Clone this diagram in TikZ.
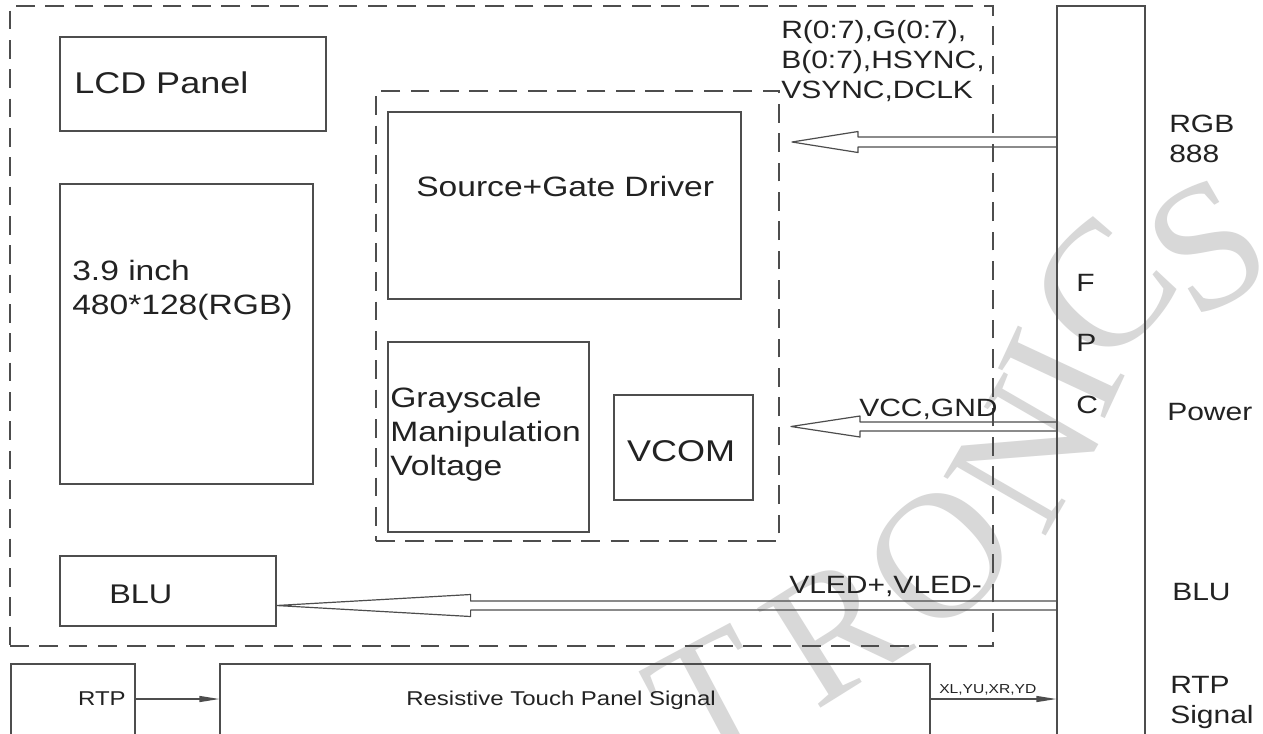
\documentclass[tikz,border=0pt]{standalone}
\usepackage{fontspec}
\setmainfont{Liberation Sans}[FakeStretch=1.2]
\newfontfamily\wmfont{Liberation Serif}
\usetikzlibrary{fit,calc,arrows.meta}
\definecolor{ln}{HTML}{4D4D4D}
\definecolor{tx}{HTML}{222222}
\definecolor{wm}{HTML}{D8D8D8}
\newcommand{\fs}[1]{\fontsize{#1}{#1}\selectfont}
\newcommand{\hollowarrow}[5]{%
  \draw[line] ($(#1)+(0,-#4)$) -- ($(#2)+(#3,-#4)$) -- ($(#2)+(#3,-#5)$) -- (#2)
    -- ($(#2)+(#3,#5)$) -- ($(#2)+(#3,#4)$) -- ($(#1)+(0,#4)$);}
\begin{document}
\begin{tikzpicture}[x=0.75pt,y=-0.75pt,
  box/.style={draw=ln,line width=0.9pt,inner sep=0pt},
  dbox/.style={box,dash pattern=on 14pt off 8pt},
  txt/.style={inner sep=0pt,anchor=base west,text=tx},
  wmark/.style={inner sep=0pt,text=wm,font=\wmfont\fs{135pt}},
  line/.style={draw=ln,line width=0.9pt,line join=round},
  small arrow/.style={draw=ln,line width=0.9pt,-{Triangle[length=15pt,width=4.5pt]}}
]
\useasboundingbox (0,0) rectangle (1263,733);
\clip (0,0) rectangle (1263,733);
\fill[white] (0,0) rectangle (1263,733);

% watermark
\node[wmark,rotate=28] (wmT) at (712,700) {T};
\node[wmark,rotate=32] (wmR) at (835,630) {R};
\node[wmark,rotate=45] (wmO) at (940,556) {O};
\node[wmark,rotate=60] (wmN) at (1025,455) {N};
\node[wmark,rotate=65] (wmI) at (1062,372) {I};
\node[wmark,rotate=48] (wmC) at (1103,290) {C};
\node[wmark,rotate=30] (wmS) at (1207,247) {S};

% boxes
\node[dbox,fit={(10,6)(993,646)}] (module) {};
\node[dbox,fit={(376,91)(779,541)}] (ic) {};
\node[box,fit={(60,37)(326,131)}] (lcd) {};
\node[box,fit={(60,184)(313,484)}] (panel) {};
\node[box,fit={(388,112)(741,299)}] (drv) {};
\node[box,fit={(388,342)(589,532)}] (gray) {};
\node[box,fit={(614,395)(753,500)}] (vcom) {};
\node[box,fit={(60,556)(276,626)}] (blu) {};
\node[box,fit={(1057,6)(1145,760)}] (fpc) {};
\node[box,fit={(11,664)(135,760)}] (rtp) {};
\node[box,fit={(220,664)(930,760)}] (rtps) {};

% texts
\node[txt,font=\fs{22.5pt}] (tlcd) at (74,93) {LCD Panel};
\node[txt,font=\fs{21pt}] (t39a) at (72,280) {3.9 inch};
\node[txt,font=\fs{21pt}] (t39b) at (72,314) {480*128(RGB)};
\node[txt,font=\fs{21pt}] (tdrv) at (416,196) {Source+Gate Driver};
\node[txt,font=\fs{21pt}] (tg1) at (390,407) {Grayscale};
\node[txt,font=\fs{21pt}] (tg2) at (390,441) {Manipulation};
\node[txt,font=\fs{21pt}] (tg3) at (390,475) {Voltage};
\node[txt,anchor=base,font=\fs{22.5pt}] (tvcom) at (681,461) {VCOM};
\node[txt,font=\fs{20.25pt}] (tblu) at (109,603) {BLU};
\node[txt,font=\fs{18.75pt}] (trgb1) at (781,38) {R(0:7),G(0:7),};
\node[txt,font=\fs{18.75pt}] (trgb2) at (781,68) {B(0:7),HSYNC,};
\node[txt,font=\fs{18.75pt}] (trgb3) at (781,98) {VSYNC,DCLK};
\node[txt,font=\fs{18.75pt}] (tvcc) at (859,416) {VCC,GND};
\node[txt,font=\fs{18.75pt}] (tvled) at (789,593) {VLED+,VLED-};
\node[txt,font=\fs{18.75pt}] (tf) at (1076,291) {F};
\node[txt,font=\fs{18.75pt}] (tp) at (1076,351) {P};
\node[txt,font=\fs{18.75pt}] (tc) at (1076,413) {C};
\node[txt,font=\fs{18.75pt}] (tr1) at (1169,132) {RGB};
\node[txt,font=\fs{18.75pt}] (tr2) at (1169,162) {888};
\node[txt,font=\fs{18.75pt}] (tpow) at (1167,420) {Power};
\node[txt,font=\fs{18.75pt}] (tblu2) at (1172,600) {BLU};
\node[txt,font=\fs{18.75pt}] (trtp1) at (1170,693) {RTP};
\node[txt,font=\fs{18.75pt}] (trtp2) at (1170,723) {Signal};
\node[txt,anchor=base east,font=\fs{15pt}] (trtp) at (126,705) {RTP};
\node[txt,font=\fs{15pt}] (trts) at (406,705) {Resistive Touch Panel Signal};
\node[txt,font=\fs{9.75pt}] (txl) at (939,693) {XL,YU,XR,YD};

% hollow arrows
\coordinate (rgbtip) at (792,142);
\coordinate (rgbsrc) at (fpc.west |- rgbtip);
\hollowarrow{rgbsrc}{rgbtip}{66}{5}{10.5}
\coordinate (vcctip) at (791,426.5);
\coordinate (vccsrc) at (fpc.west |- vcctip);
\hollowarrow{vccsrc}{vcctip}{69}{4.5}{10.5}
\coordinate (bltip) at (blu.east |- 0,605.5);
\coordinate (blsrc) at (fpc.west |- bltip);
\hollowarrow{blsrc}{bltip}{194}{4.5}{11}

% small arrows
\draw[small arrow] (rtp.east |- 0,699) -- (rtps.west |- 0,699);
\draw[small arrow] (rtps.east |- 0,699) -- (fpc.west |- 0,699);
\end{tikzpicture}
\end{document}
